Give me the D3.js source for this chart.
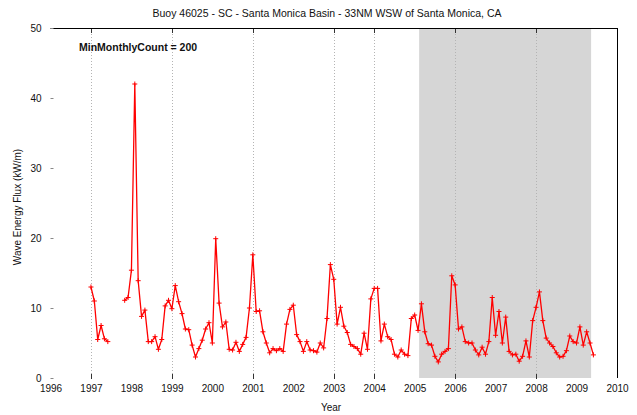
<!DOCTYPE html>
<html>
<head>
<meta charset="utf-8">
<script src="https://cdn.jsdelivr.net/npm/d3@7"></script>
<style>
  html, body { margin: 0; padding: 0; background: #fff; }
  svg { display: block; font-family: "Liberation Sans", Arial, sans-serif; }
</style>
</head>
<body>
<svg id="chart" width="637" height="415"></svg>
<script>
// Monthly mean wave energy flux (kW/m), January..December; null = month below the minimum count
const flux1997 = [13.0, 11.0, 5.5, 7.5, 5.6, 5.2, null, null, null, null, 11.1, 11.5];
const flux1998 = [15.4, 42.0, 13.9, 8.8, 9.7, 5.2, 5.2, 5.9, 4.1, 5.5, 10.3, 11.1];
const flux1999 = [9.9, 13.2, 10.9, 9.2, 7.0, 6.9, 4.7, 3.0, 4.2, 5.4, 7.0, 7.9];
const flux2000 = [5.0, 19.9, 10.7, 7.3, 8.0, 4.1, 4.0, 5.1, 3.8, 4.8, 5.8, 10.0];
const flux2001 = [17.6, 9.5, 9.6, 6.6, 5.0, 3.6, 4.2, 3.9, 4.2, 3.8, 7.7, 9.8];
const flux2002 = [10.4, 6.2, 5.2, 3.8, 5.2, 4.0, 3.9, 3.7, 5.0, 4.3, 8.5, 16.2];
const flux2003 = [14.1, 7.7, 10.1, 7.4, 6.5, 4.8, 4.5, 4.2, 3.4, 6.4, 4.1, 11.3];
const flux2004 = [12.8, 12.8, 5.3, 7.7, 5.9, 5.5, 3.4, 3.0, 4.0, 3.4, 3.2, 8.5];
const flux2005 = [9.0, 6.8, 10.6, 6.6, 4.9, 4.7, 3.1, 2.3, 3.4, 3.8, 4.2, 14.6];
const flux2006 = [13.3, 7.0, 7.3, 5.2, 5.0, 5.0, 4.0, 3.3, 4.4, 3.4, 5.2, 11.5];
const flux2007 = [6.1, 9.5, 5.0, 8.7, 3.8, 3.3, 3.4, 2.4, 3.1, 5.3, 3.0, 8.2];
const flux2008 = [10.1, 12.3, 8.2, 5.7, 5.0, 4.5, 3.6, 3.0, 3.1, 3.9, 6.0, 5.2];
const flux2009 = [5.0, 7.3, 4.7, 6.6, 5.0, 3.3];

const dataYears = [1997, 1998, 1999, 2000, 2001, 2002, 2003, 2004, 2005, 2006, 2007, 2008, 2009];
const yearlyFlux = [flux1997, flux1998, flux1999, flux2000, flux2001, flux2002, flux2003,
                    flux2004, flux2005, flux2006, flux2007, flux2008, flux2009];

// Axis ticks and reference lines
const xTickYears = [1996, 1997, 1998, 1999, 2000, 2001, 2002, 2003, 2004, 2005, 2006, 2007, 2008, 2009, 2010];
const yTickValues = [0, 10, 20, 30, 40, 50];
const markerYears = [1997, 1999, 2001, 2003, 2004, 2006, 2008];
const shadedSpan = [2005.11, 2009.36];

const titleText = "Buoy 46025 - SC - Santa Monica Basin - 33NM WSW of Santa Monica, CA";
const noteText = "MinMonthlyCount = 200";
const xTitle = "Year";
const yTitle = "Wave Energy Flux (kW/m)";

// Flatten into dated points (month m at year + m/12)
const points = [];
dataYears.forEach((yr, i) => {
  yearlyFlux[i].forEach((v, m) => points.push({ t: yr + m / 12, v: v }));
});

const svg = d3.select("#chart");
const x = d3.scaleLinear().domain([1996, 2010]).range([50.5, 617]);
const y = d3.scaleLinear().domain([0, 50]).range([378, 28]);

// Shaded period
svg.append("rect")
  .attr("x", x(shadedSpan[0]))
  .attr("y", y(50))
  .attr("width", x(shadedSpan[1]) - x(shadedSpan[0]))
  .attr("height", y(0) - y(50))
  .attr("fill", "#d6d6d6");

// Dotted reference lines
svg.append("g").selectAll("line")
  .data(markerYears).join("line")
  .attr("x1", d => Math.round(x(d)) + 0.5).attr("x2", d => Math.round(x(d)) + 0.5)
  .attr("y1", y(50)).attr("y2", y(0))
  .attr("stroke", "#b4b4b4").attr("stroke-width", 1)
  .attr("stroke-dasharray", "1,2");

// Tick marks on bottom and top of those lines
const tickG = svg.append("g").attr("stroke", "#333").attr("stroke-width", 1);
tickG.selectAll("line.b").data(markerYears).join("line").attr("class", "b")
  .attr("x1", d => Math.round(x(d)) + 0.5).attr("x2", d => Math.round(x(d)) + 0.5)
  .attr("y1", y(0) - 4).attr("y2", y(0) + 1);
tickG.selectAll("line.t").data(markerYears).join("line").attr("class", "t")
  .attr("x1", d => Math.round(x(d)) + 0.5).attr("x2", d => Math.round(x(d)) + 0.5)
  .attr("y1", y(50)).attr("y2", y(50) + 5);

// Frame: top and right edges
svg.append("line").attr("x1", x(1996)).attr("x2", x(2010) + 0.5)
  .attr("y1", Math.round(y(50)) + 0.5).attr("y2", Math.round(y(50)) + 0.5)
  .attr("stroke", "#000");
svg.append("line").attr("x1", Math.round(x(2010)) + 0.5).attr("x2", Math.round(x(2010)) + 0.5)
  .attr("y1", y(50)).attr("y2", y(0))
  .attr("stroke", "#000");

// Y axis
const yAxis = d3.axisLeft(y).tickValues(yTickValues).tickSize(-3).tickPadding(9);
const yG = svg.append("g").attr("transform", `translate(${x(1996)},0)`).call(yAxis);
yG.select(".domain").remove();
yG.selectAll(".tick line").attr("stroke", "#888");
yG.selectAll("text").attr("font-size", 10).attr("fill", "#111")
  .attr("font-family", "Liberation Sans, Arial, sans-serif");

// X axis labels
const xAxis = d3.axisBottom(x).tickValues(xTickYears).tickFormat(d3.format("d")).tickSize(0).tickPadding(7);
const xG = svg.append("g").attr("transform", `translate(0,${y(0)})`).call(xAxis);
xG.select(".domain").remove();
xG.selectAll("text").attr("font-size", 10).attr("fill", "#111")
  .attr("font-family", "Liberation Sans, Arial, sans-serif");

// Flux line with cross markers
const line = d3.line()
  .defined(d => d.v != null)
  .x(d => x(d.t)).y(d => y(d.v));
svg.append("path").datum(points)
  .attr("d", line)
  .attr("fill", "none").attr("stroke", "#ff0000").attr("stroke-width", 1.3)
  .attr("stroke-linejoin", "round");

const cross = 2.5;
svg.append("g").attr("stroke", "#ff0000").attr("stroke-width", 1)
  .selectAll("path").data(points.filter(d => d.v != null)).join("path")
  .attr("d", d => {
    const cx = x(d.t), cy = y(d.v);
    return `M${cx - cross},${cy}H${cx + cross}M${cx},${cy - cross}V${cy + cross}`;
  });

// Texts
svg.append("text").attr("x", 327).attr("y", 17).attr("text-anchor", "middle")
  .attr("font-size", 10.5).attr("fill", "#111").text(titleText);
svg.append("text").attr("x", 79).attr("y", 51).attr("font-size", 10.5)
  .attr("font-weight", "bold").attr("fill", "#111").text(noteText);
svg.append("text").attr("x", 331).attr("y", 411).attr("text-anchor", "middle")
  .attr("font-size", 10).attr("fill", "#111").text(xTitle);
svg.append("text").attr("transform", "translate(21,207) rotate(-90)")
  .attr("text-anchor", "middle").attr("font-size", 10).attr("fill", "#111").text(yTitle);
</script>
</body>
</html>
